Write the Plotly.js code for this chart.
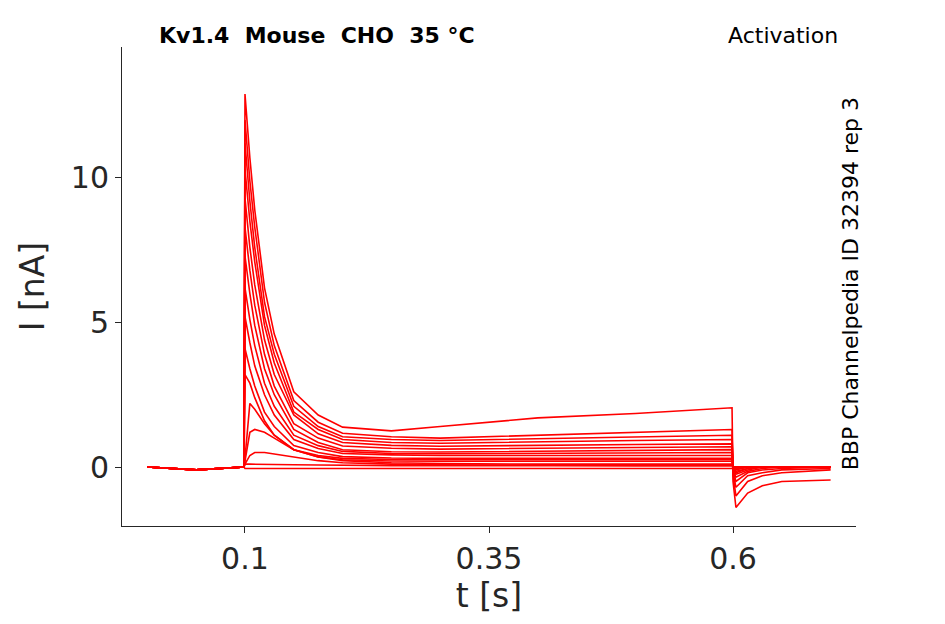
<!DOCTYPE html>
<html>
<head>
<meta charset="utf-8">
<script src="https://cdn.plot.ly/plotly-3.0.1.min.js"></script>
<style>body{margin:0;background:#fff}</style>
</head>
<body>
<div id="chart" style="width:945px;height:624px"></div>
<script>
// sample times (s), shared by all sweeps
const timeS = [0, 0.05, 0.099, 0.1, 0.105, 0.11, 0.12, 0.13, 0.15, 0.175, 0.2, 0.25, 0.3, 0.4, 0.5, 0.599, 0.6, 0.603, 0.615, 0.63, 0.65, 0.7];

// current sweeps (nA)
const sweep1  = [0, -0.1, 0, 12.9, 10.7, 8.9, 6.2, 4.6, 2.6, 1.8, 1.38, 1.25, 1.4, 1.7, 1.85, 2.05, -0.5, -1.4, -0.9, -0.65, -0.5, -0.45];
const sweep2  = [0, -0.1, 0, 12.0, 9.9, 8.3, 5.7, 4.2, 2.3, 1.55, 1.17, 1.05, 1.0, 1.1, 1.2, 1.3, -0.3, -1.0, -0.5, -0.3, -0.2, -0.1];
const sweep3  = [0, -0.1, 0, 11.2, 9.2, 7.6, 5.2, 3.9, 2.1, 1.4, 1.05, 0.95, 0.92, 0.98, 1.05, 1.1, -0.2, -0.7, -0.3, -0.2, -0.1, -0.05];
const sweep4  = [0, -0.1, 0, 10.3, 8.5, 7.1, 4.9, 3.6, 1.9, 1.3, 0.95, 0.85, 0.82, 0.88, 0.92, 0.95, -0.1, -0.5, -0.2, -0.1, -0.05, 0];
const sweep5  = [0, -0.1, 0, 9.3, 7.6, 6.3, 4.4, 3.2, 1.8, 1.15, 0.85, 0.75, 0.72, 0.76, 0.78, 0.8, -0.1, -0.35, -0.15, -0.05, 0, 0];
const sweep6  = [0, -0.1, 0, 8.3, 6.8, 5.6, 3.9, 2.8, 1.5, 1.0, 0.73, 0.65, 0.62, 0.65, 0.68, 0.7, 0, -0.25, -0.1, 0, 0, 0];
const sweep7  = [0, -0.1, 0, 7.3, 6.0, 4.9, 3.4, 2.5, 1.3, 0.85, 0.6, 0.53, 0.52, 0.55, 0.58, 0.6, 0, -0.2, -0.05, 0, 0, 0];
const sweep8  = [0, -0.1, 0, 6.2, 5.1, 4.2, 2.9, 2.1, 1.1, 0.74, 0.54, 0.47, 0.46, 0.48, 0.49, 0.5, 0, -0.15, -0.05, 0, 0, 0];
const sweep9  = [0, -0.1, 0, 5.2, 4.3, 3.5, 2.5, 1.8, 0.95, 0.64, 0.47, 0.42, 0.4, 0.4, 0.4, 0.4, 0, -0.1, 0, 0, 0, 0];
const sweep10 = [0, -0.1, 0, 4.1, 3.4, 2.8, 1.9, 1.4, 0.74, 0.5, 0.36, 0.31, 0.3, 0.3, 0.3, 0.3, 0, -0.08, 0, 0, 0, 0];
const sweep11 = [0, -0.1, 0, 3.2, 2.9, 2.4, 1.6, 1.1, 0.6, 0.4, 0.3, 0.26, 0.25, 0.25, 0.25, 0.25, 0, -0.05, 0, 0, 0, 0];
const sweep12 = [0, -0.1, 0, 0.3, 2.2, 2.0, 1.5, 1.1, 0.6, 0.35, 0.25, 0.21, 0.2, 0.2, 0.2, 0.2, 0, -0.03, 0, 0, 0, 0];
const sweep13 = [0, -0.1, 0, 0.2, 1.2, 1.3, 1.2, 1.0, 0.6, 0.35, 0.22, 0.15, 0.12, 0.1, 0.1, 0.1, 0, 0, 0, 0, 0, 0];
const sweep14 = [0, -0.1, 0, 0.1, 0.4, 0.5, 0.5, 0.45, 0.35, 0.22, 0.15, 0.1, 0.08, 0.06, 0.05, 0.05, 0, 0, 0, 0, 0, 0];
const sweep15 = [0, -0.1, 0, 0.1, 0.1, 0.1, 0.1, 0.1, 0.08, 0.07, 0.06, 0.05, 0.05, 0.05, 0.05, 0.05, 0, 0, 0, 0, 0, 0];
const sweep16 = [0, -0.1, 0, -0.05, -0.05, -0.05, -0.05, -0.05, -0.05, -0.05, -0.05, -0.05, -0.05, -0.05, -0.05, -0.05, 0, 0, 0, 0, 0, 0];

const sweeps = [sweep1, sweep2, sweep3, sweep4, sweep5, sweep6, sweep7, sweep8,
                sweep9, sweep10, sweep11, sweep12, sweep13, sweep14, sweep15, sweep16];

const xTicks = [0.1, 0.35, 0.6];
const yTicks = [0, 5, 10];

const traces = sweeps.map(s => ({
    type: 'scatter',
    mode: 'lines',
    x: timeS,
    y: s,
    line: { color: '#ff0000', width: 1.6 },
    hoverinfo: 'skip'
}));

const axisCommon = {
    showgrid: false,
    zeroline: false,
    showline: true,
    linecolor: '#262626',
    linewidth: 1,
    ticks: 'outside',
    ticklen: 6,
    tickcolor: '#262626',
    tickfont: { size: 30, color: '#262626' }
};

const layout = {
    width: 945,
    height: 624,
    margin: { l: 122, r: 89, t: 47, b: 98 },
    paper_bgcolor: '#ffffff',
    plot_bgcolor: '#ffffff',
    showlegend: false,
    font: { family: 'DejaVu Sans, sans-serif', color: '#262626' },
    xaxis: Object.assign({}, axisCommon, {
        range: [-0.026, 0.726],
        tickvals: xTicks,
        ticktext: xTicks.map(String),
        title: { text: 't [s]', font: { size: 33, color: '#262626' }, standoff: 8 }
    }),
    yaxis: Object.assign({}, axisCommon, {
        range: [-2.04, 14.53],
        tickvals: yTicks,
        ticktext: yTicks.map(String),
        title: { text: 'I [nA]', font: { size: 33, color: '#262626' }, standoff: 16 }
    }),
    annotations: [
        { text: '<b>Kv1.4  Mouse  CHO  35 °C</b>', xref: 'paper', yref: 'paper',
          x: 0.048, y: 1.0, xanchor: 'left', yanchor: 'bottom', yshift: -3, showarrow: false,
          font: { size: 22, color: '#000' } },
        { text: 'Activation', xref: 'paper', yref: 'paper',
          x: 0.978, y: 1.0, xanchor: 'right', yanchor: 'bottom', yshift: -3, showarrow: false,
          font: { size: 22, color: '#000' } },
        { text: 'BBP Channelpedia ID 32394 rep 3', xref: 'paper', yref: 'paper',
          x: 0.992, y: 0.505, xanchor: 'center', yanchor: 'middle', textangle: -90,
          showarrow: false, font: { size: 22, color: '#000' } }
    ]
};

Plotly.newPlot('chart', traces, layout, { displayModeBar: false, staticPlot: true });
</script>
</body>
</html>
